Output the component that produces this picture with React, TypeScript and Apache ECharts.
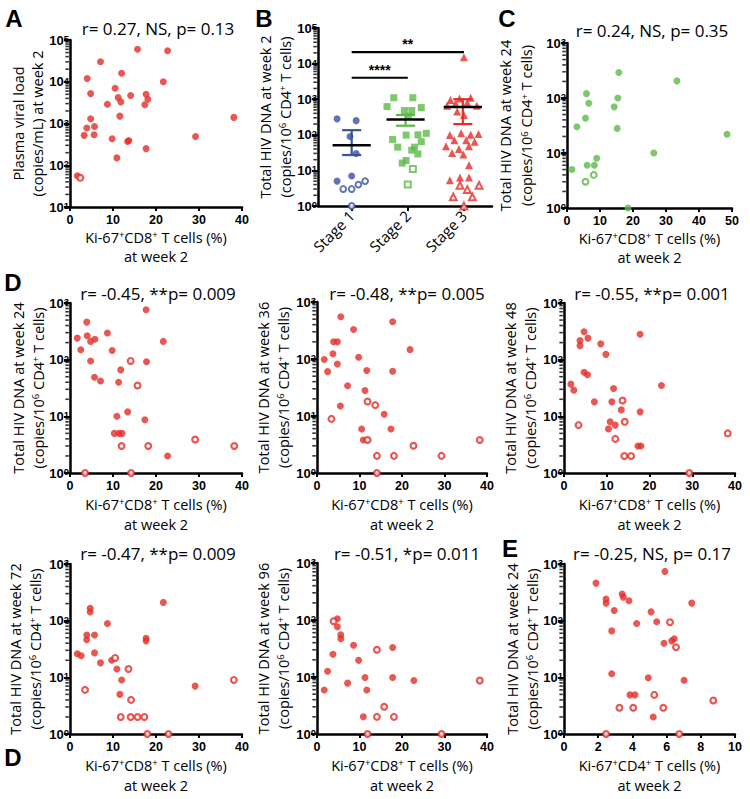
import React, { useEffect, useRef } from "react";
import * as echarts from "echarts";

const RED = "#e52d27";
const GREEN = "#5cb947";
const BLUE = "#3853a4";
const SANS = '"Open Sans", "Noto Sans", "DejaVu Sans", sans-serif';
const TICK = '"Liberation Sans", Arial, sans-serif';

// ---------- Panel A : plasma viral load vs Ki-67+CD8+ ----------
const aFilled = [
  [15.7, 60000], [22.7, 55000], [7.1, 30000], [12.0, 16000], [21.7, 10000], [4.0, 12000],
  [10.5, 7000], [4.8, 5200], [17.7, 5000], [14.1, 4700], [11.2, 4200], [18.1, 3800],
  [11.8, 3300], [8.7, 2900], [17.4, 2800], [11.6, 1500], [38.1, 1400], [4.8, 1300],
  [3.9, 780], [5.7, 850], [3.3, 520], [5.6, 540], [9.8, 430], [29.2, 490], [13.4, 370],
  [13.7, 390], [17.7, 250], [10.9, 150], [1.7, 56],
];
const aOpen = [[2.4, 50]];

// ---------- Panel B : HIV DNA by stage ----------
const stageLabels = ["Stage 1", "Stage 2", "Stage 3"];
const stage1Filled = [[0.74, 280], [1.08, 250], [0.97, 90], [1.08, 30], [0.74, 5], [1.0, 7]];
const stage1Open = [[0.85, 3], [1.0, 3], [1.12, 4], [1.24, 5], [1.0, 1]];
const stage2Filled = [
  [1.75, 1100], [2.09, 1100], [1.63, 620], [2.24, 580], [1.94, 480], [2.07, 480], [2.01, 330],
  [1.73, 74], [1.97, 98], [2.18, 100], [2.33, 110], [2.24, 64], [1.82, 45], [2.12, 45],
  [2.07, 37], [2.18, 29], [1.9, 16], [1.97, 19],
];
const stage2Open = [[2.09, 11], [2.0, 4]];
const stage3Filled = [
  [3.0, 15000], [2.76, 950], [2.92, 1050], [3.12, 1100], [2.7, 650], [2.85, 760], [3.06, 800],
  [3.23, 650], [2.88, 450], [3.0, 360], [2.75, 98], [2.95, 110], [3.12, 100], [3.26, 105],
  [2.83, 70], [3.04, 70], [3.19, 64], [2.68, 48], [2.91, 40], [3.09, 48], [2.79, 31],
  [2.99, 28], [3.09, 14], [2.75, 5.3], [2.93, 6.3], [3.09, 6.3],
];
const stage3Open = [[2.93, 3.8], [3.27, 3.8], [3.06, 2.9], [2.81, 1.8], [3.15, 1.8], [3.0, 1.0]];
const bCenters = [1.0, 1.96, 2.98];
const bMeans = [51, 270, 600];
const bSemLow = [27, 180, 200];
const bSemHigh = [135, 360, 1000];
const sigRows = [[1, 3, 21000], [1, 2, 4000]];
const sigLabels = ["**", "****"];

// ---------- Panel C ----------
const cFilled = [
  [15.7, 290], [33.3, 205], [5.9, 120], [15.4, 100], [6.6, 80], [14.3, 69], [5.6, 43],
  [3.0, 30], [15.2, 28], [48.5, 22], [26.3, 10], [9.0, 8], [6.1, 6], [8.3, 6], [1.5, 5], [18.5, 1],
];
const cOpen = [[8.1, 4], [5.6, 3]];

// ---------- Panel D ----------
const d24Filled = [
  [17.7, 760], [3.9, 460], [1.7, 240], [4.0, 265], [8.7, 295], [21.7, 210], [4.8, 210],
  [5.8, 230], [2.5, 150], [9.8, 145], [4.8, 95], [17.8, 92], [11.8, 66], [5.7, 49], [7.1, 42],
  [11.3, 40], [13.4, 12], [10.9, 10], [17.4, 8.7], [10.3, 5], [11.4, 5], [12.1, 5], [22.7, 2],
];
const d24Open = [[14.1, 95], [15.7, 35], [12.0, 3], [18.2, 3], [29.1, 3.9], [38.2, 3], [3.5, 1], [14.2, 1]];

const d36Filled = [
  [5.6, 550], [17.8, 450], [8.6, 330], [3.9, 200], [4.8, 200], [3.75, 124], [1.7, 98],
  [9.8, 107], [21.9, 146], [4.8, 82], [2.5, 60], [11.7, 63], [17.8, 61], [7.2, 34], [11.3, 28],
  [5.5, 15], [15.8, 10.7], [10.5, 5.9], [17.4, 5.9], [10.9, 3.8],
];
const d36Open = [
  [11.9, 18], [13.7, 15.5], [3.4, 8.9], [11.9, 3.8], [38.3, 3.8], [22.7, 3], [14.1, 2],
  [18.1, 2], [29.3, 2], [14.1, 1],
];

const d48Filled = [
  [4.7, 310], [17.8, 280], [3.75, 218], [5.6, 240], [8.6, 190], [3.75, 177], [9.8, 124],
  [4.7, 60], [5.5, 54], [1.6, 37], [2.3, 29], [22.8, 35], [11.6, 31], [7.1, 18], [11.2, 18],
  [13.4, 13], [17.8, 12], [10.8, 8], [12.0, 7], [10.4, 6], [17.3, 3], [18.0, 3],
];
const d48Open = [[13.7, 19], [3.4, 7], [14.2, 8], [12.0, 4], [14.1, 2], [15.7, 2], [38.3, 5], [29.3, 1]];

const d72Filled = [
  [21.7, 210], [4.7, 165], [4.7, 142], [8.7, 89], [3.9, 56], [5.7, 56], [3.9, 46], [17.7, 49],
  [17.7, 44], [1.7, 26], [2.6, 24], [5.7, 27], [7.1, 18], [9.7, 20], [10.9, 14], [12.0, 9],
  [11.6, 5], [29.1, 7],
];
const d72Open = [
  [10.5, 22], [13.6, 14], [3.5, 6], [14.2, 4], [11.8, 2], [14.1, 2], [15.7, 2], [17.3, 2],
  [18.0, 1], [22.9, 1], [38.1, 9],
];

const d96Filled = [
  [4.8, 105], [4.8, 76], [5.6, 55], [5.6, 47], [8.6, 36], [17.8, 33], [9.8, 19.6], [3.75, 25],
  [2.5, 12.6], [11.3, 9.8], [17.8, 9.8], [22.8, 8.7], [7.2, 7.8], [1.7, 5.9], [11.7, 5.9], [10.9, 2],
];
const d96Open = [[3.9, 95], [14.1, 30], [38.3, 8.7], [15.8, 3], [14.1, 2], [18.1, 2], [11.9, 1], [29.3, 1]];

// ---------- Panel E ----------
const eFilled = [
  [5.9, 740], [1.87, 460], [3.4, 295], [3.47, 260], [2.46, 240], [3.8, 225], [2.46, 204],
  [7.47, 204], [2.94, 151], [5.09, 143], [5.42, 96], [4.25, 89], [2.79, 66], [6.45, 48],
  [6.3, 44], [5.85, 40], [2.79, 11.6], [4.93, 9.8], [7.02, 8.9], [3.86, 4.9], [4.15, 4.9], [5.22, 2],
];
const eOpen = [
  [6.2, 94], [6.55, 34], [5.28, 4.9], [8.73, 3.9], [3.24, 2.9], [4.05, 2.9], [5.81, 2.9],
  [2.46, 1], [6.74, 1],
];

// ---------- texts ----------
const titles = [
  "r= 0.27, NS, p= 0.13",
  "",
  "r= 0.24, NS, p= 0.35",
  "r= -0.45, **p= 0.009",
  "r= -0.48, **p= 0.005",
  "r= -0.55, **p= 0.001",
  "r= -0.47, **p= 0.009",
  "r= -0.51, *p= 0.011",
  "r= -0.25, NS, p= 0.17",
];
const yNames = [
  ["Plasma viral load", "(copies/mL) at week 2"],
  ["Total HIV DNA at week 2", "(copies/10{s|6} CD4{s|+} T cells)"],
  ["Total HIV DNA at week 24", "(copies/10{s|6} CD4{s|+} T cells)"],
  ["Total HIV DNA at week 24", "(copies/10{s|6} CD4{s|+} T cells)"],
  ["Total HIV DNA at week 36", "(copies/10{s|6} CD4{s|+} T cells)"],
  ["Total HIV DNA at week 48", "(copies/10{s|6} CD4{s|+} T cells)"],
  ["Total HIV DNA at week 72", "(copies/10{s|6} CD4{s|+} T cells)"],
  ["Total HIV DNA at week 96", "(copies/10{s|6} CD4{s|+} T cells)"],
  ["Total HIV DNA at week 24", "(copies/10{s|6} CD4{s|+} T cells)"],
];
const xNameCD8 = "Ki-67{s|+}CD8{s|+} T cells (%)";
const xNameCD4 = "Ki-67{s|+}CD4{s|+} T cells (%)";
const xNameSub = "at week 2";
const panelLetters = ["A", "B", "C", "D", "D", "E"];

// ---------- layout (positions only) ----------
type Layout = {
  left: number; top: number; width: number; height: number;
  xMin: number; xMax: number; xInt: number; yMin: number; yMax: number;
  titleX: number; titleY: number; yNameX: number; yNameGap: number;
};
const layouts: Layout[] = [
  { left: 70, top: 40, width: 172, height: 167, xMin: 0, xMax: 40, xInt: 10, yMin: 10, yMax: 1e5, titleX: 158, titleY: 28, yNameX: 28, yNameGap: 19 },
  { left: 318, top: 28, width: 174, height: 178, xMin: 0.4, xMax: 3.5, xInt: 1, yMin: 1, yMax: 1e5, titleX: 0, titleY: 0, yNameX: 275, yNameGap: 20 },
  { left: 567, top: 43, width: 165, height: 165, xMin: 0, xMax: 50, xInt: 10, yMin: 1, yMax: 1000, titleX: 652, titleY: 30, yNameX: 516, yNameGap: 21 },
  { left: 70, top: 303, width: 172, height: 170, xMin: 0, xMax: 40, xInt: 10, yMin: 1, yMax: 1000, titleX: 158, titleY: 293, yNameX: 28, yNameGap: 20 },
  { left: 317, top: 302, width: 170, height: 171, xMin: 0, xMax: 40, xInt: 10, yMin: 1, yMax: 1000, titleX: 407, titleY: 293, yNameX: 273, yNameGap: 20 },
  { left: 564, top: 303, width: 171, height: 170, xMin: 0, xMax: 40, xInt: 10, yMin: 1, yMax: 1000, titleX: 652, titleY: 293, yNameX: 520, yNameGap: 20 },
  { left: 70, top: 564, width: 172, height: 170, xMin: 0, xMax: 40, xInt: 10, yMin: 1, yMax: 1000, titleX: 158, titleY: 553, yNameX: 25, yNameGap: 20 },
  { left: 317, top: 563, width: 170, height: 171, xMin: 0, xMax: 40, xInt: 10, yMin: 1, yMax: 1000, titleX: 407, titleY: 553, yNameX: 273, yNameGap: 20 },
  { left: 564, top: 564, width: 171, height: 170, xMin: 0, xMax: 10, xInt: 2, yMin: 1, yMax: 1000, titleX: 652, titleY: 553, yNameX: 522, yNameGap: 20 },
];
const letterPos = [[14, 18.5], [264, 18], [507, 18], [13, 282], [13, 757], [510, 548]];

const supRich = (size: number) => ({
  s: { fontSize: size, fontFamily: SANS, verticalAlign: "top", fill: "#000", color: "#000" },
});

function minorTickValues(yMin: number, yMax: number) {
  const out: number[] = [];
  for (let e = Math.round(Math.log10(yMin)); Math.pow(10, e) < yMax; e++) {
    for (let m = 2; m <= 9; m++) out.push(m * Math.pow(10, e));
  }
  return out;
}

function buildOption() {
  const grid: any[] = [];
  const xAxis: any[] = [];
  const yAxis: any[] = [];
  const series: any[] = [];
  const graphic: any[] = [];

  const pointData: [number[][], number[][], string][] = [
    [aFilled, aOpen, RED],
    [[], [], RED],
    [cFilled, cOpen, GREEN],
    [d24Filled, d24Open, RED],
    [d36Filled, d36Open, RED],
    [d48Filled, d48Open, RED],
    [d72Filled, d72Open, RED],
    [d96Filled, d96Open, RED],
    [eFilled, eOpen, RED],
  ];

  layouts.forEach((L, i) => {
    grid.push({ left: L.left, top: L.top, width: L.width, height: L.height, containLabel: false, outerBoundsMode: "none" });
    const isB = i === 1;
    xAxis.push({
      gridIndex: i,
      type: "value",
      min: L.xMin,
      max: L.xMax,
      interval: isB ? undefined : L.xInt,
      axisLine: { show: true, onZero: false, lineStyle: { color: "#000", width: 2.5 } },
      axisTick: isB
        ? { show: true, customValues: [1, 2, 3], length: 5, lineStyle: { color: "#000", width: 2 } }
        : { show: true, length: 4, lineStyle: { color: "#000", width: 2 } },
      axisLabel: isB
        ? {
            customValues: [1, 2, 3],
            formatter: (v: number) => stageLabels[Math.round(v) - 1],
            rotate: 45,
            fontSize: 15,
            fontFamily: SANS,
            color: "#000",
            margin: 7,
          }
        : { fontSize: 12.5, fontWeight: "bold", fontFamily: TICK, color: "#000", margin: 6 },
      splitLine: { show: false },
    });
    yAxis.push({
      gridIndex: i,
      type: "log",
      logBase: 10,
      min: L.yMin,
      max: L.yMax,
      axisLine: { show: true, lineStyle: { color: "#000", width: 2.5 } },
      axisTick: { show: true, length: 6, lineStyle: { color: "#000", width: 2 } },
      axisLabel: {
        margin: 1,
        formatter: (v: number) => `{b|10}{s|${Math.round(Math.log10(v))}}`,
        rich: {
          b: { fontSize: 13, fontWeight: "bold", fontFamily: TICK, color: "#000" },
          s: { fontSize: 9.5, fontWeight: "bold", fontFamily: TICK, color: "#000", verticalAlign: "top" },
        },
      },
      splitLine: { show: false },
    });

    // minor log ticks
    series.push({
      type: "scatter",
      xAxisIndex: i,
      yAxisIndex: i,
      silent: true,
      clip: false,
      symbol: "rect",
      symbolSize: [3.5, 1.6],
      symbolOffset: [-2.9, 0],
      itemStyle: { color: "#000" },
      data: minorTickValues(L.yMin, L.yMax).map((v) => [L.xMin, v]),
      z: 1,
    });

    if (!isB) {
      const [filled, open, color] = pointData[i];
      series.push({
        type: "scatter", xAxisIndex: i, yAxisIndex: i, silent: true, clip: false,
        symbol: "circle", symbolSize: 7, itemStyle: { color }, data: filled, z: 3,
      });
      series.push({
        type: "scatter", xAxisIndex: i, yAxisIndex: i, silent: true, clip: false,
        symbol: "circle", symbolSize: 5.8,
        itemStyle: { color: "#fff", borderColor: color, borderWidth: 2.2 }, data: open, z: 3,
      });
    }

    // title
    if (titles[i]) {
      graphic.push({
        type: "text", x: L.titleX, y: L.titleY, silent: true,
        style: { text: titles[i], fontSize: 17, fontFamily: SANS, fill: "#000", align: "center", verticalAlign: "middle", textAlign: "center", textVerticalAlign: "middle" },
      });
    }
    // y name (rotated, two lines)
    const cy = L.top + L.height / 2;
    const [l1, l2] = yNames[i];
    [l1, l2].forEach((t, k) => {
      graphic.push({
        type: "text",
        x: L.yNameX + (k === 0 ? -L.yNameGap / 2 : L.yNameGap / 2),
        y: cy,
        rotation: Math.PI / 2,
        silent: true,
        style: {
          text: t, fontSize: 14.5, fontFamily: SANS, fill: "#000",
          align: "center", verticalAlign: "middle", textAlign: "center", textVerticalAlign: "middle",
          rich: supRich(9.5),
        },
      });
    });
    // x name
    if (!isB) {
      const axisY = L.top + L.height;
      const cx = L.left + L.width / 2;
      const nm = i === 8 ? xNameCD4 : xNameCD8;
      const off1 = i <= 2 ? 30 : 31;
      const off2 = i <= 2 ? 49 : 51;
      graphic.push({
        type: "text", x: cx, y: axisY + off1, silent: true,
        style: { text: nm, fontSize: 14.5, fontFamily: SANS, fill: "#000", align: "center", verticalAlign: "middle", textAlign: "center", textVerticalAlign: "middle", rich: supRich(9.5) },
      });
      graphic.push({
        type: "text", x: cx, y: axisY + off2, silent: true,
        style: { text: xNameSub, fontSize: 14.5, fontFamily: SANS, fill: "#000", align: "center", verticalAlign: "middle", textAlign: "center", textVerticalAlign: "middle" },
      });
    }
  });

  // Panel B point series
  const bSets: [number[][], string, string, boolean, number][] = [
    [stage1Filled, BLUE, "circle", true, 7],
    [stage1Open, BLUE, "circle", false, 5.8],
    [stage2Filled, GREEN, "rect", true, 7],
    [stage2Open, GREEN, "rect", false, 6],
    [stage3Filled, RED, "triangle", true, 8],
    [stage3Open, RED, "triangle", false, 6.8],
  ];
  bSets.forEach(([d, col, sym, fill, size]) => {
    series.push({
      type: "scatter", xAxisIndex: 1, yAxisIndex: 1, silent: true, clip: false,
      symbol: sym, symbolSize: size,
      itemStyle: fill ? { color: col } : { color: "#fff", borderColor: col, borderWidth: 2 },
      data: d, z: 3,
    });
  });
  const bColors = [BLUE, GREEN, RED];
  series.push({
    type: "custom", xAxisIndex: 1, yAxisIndex: 1, silent: true, clip: false, z: 5,
    encode: { x: 0, y: [1, 2, 3] },
    data: bCenters.map((c, k) => [c, bMeans[k], bSemLow[k], bSemHigh[k]]),
    renderItem: (params: any, api: any) => {
      const k = params.dataIndex;
      const c = api.value(0), m = api.value(1), lo = api.value(2), hi = api.value(3);
      const pL = api.coord([c - 0.34, m]);
      const pR = api.coord([c + 0.34, m]);
      const pLo = api.coord([c, lo]);
      const pHi = api.coord([c, hi]);
      const cl = api.coord([c - 0.17, lo])[0];
      const cr = api.coord([c + 0.17, lo])[0];
      const col = bColors[k];
      return {
        type: "group",
        children: [
          { type: "line", shape: { x1: pLo[0], y1: pLo[1], x2: pHi[0], y2: pHi[1] }, style: { stroke: col, lineWidth: 2.2 } },
          { type: "line", shape: { x1: cl, y1: pLo[1], x2: cr, y2: pLo[1] }, style: { stroke: col, lineWidth: 2.2 } },
          { type: "line", shape: { x1: cl, y1: pHi[1], x2: cr, y2: pHi[1] }, style: { stroke: col, lineWidth: 2.2 } },
          { type: "line", shape: { x1: pL[0], y1: pL[1], x2: pR[0], y2: pR[1] }, style: { stroke: "#000", lineWidth: 2.5 } },
        ],
      };
    },
  });
  series.push({
    type: "custom", xAxisIndex: 1, yAxisIndex: 1, silent: true, clip: false, z: 5,
    encode: { x: [0, 1], y: 2 },
    data: sigRows,
    renderItem: (params: any, api: any) => {
      const p1 = api.coord([api.value(0), api.value(2)]);
      const p2 = api.coord([api.value(1), api.value(2)]);
      return {
        type: "group",
        children: [
          { type: "line", shape: { x1: p1[0], y1: p1[1], x2: p2[0], y2: p2[1] }, style: { stroke: "#000", lineWidth: 2.2 } },
          {
            type: "text", x: (p1[0] + p2[0]) / 2, y: p1[1] - 1,
            style: { text: sigLabels[params.dataIndex], fontSize: 14, fontWeight: "bold", fontFamily: TICK, fill: "#000", align: "center", verticalAlign: "bottom", textAlign: "center", textVerticalAlign: "bottom" },
          },
        ],
      };
    },
  });

  panelLetters.forEach((t, k) => {
    graphic.push({
      type: "text", x: letterPos[k][0], y: letterPos[k][1], silent: true,
      style: { text: t, fontSize: 24, fontWeight: "bold", fontFamily: TICK, fill: "#000", align: "center", verticalAlign: "middle", textAlign: "center", textVerticalAlign: "middle" },
    });
  });

  return {
    animation: false,
    backgroundColor: "#fff",
    grid, xAxis, yAxis, series, graphic,
  };
}

export default function App() {
  const ref = useRef<HTMLDivElement>(null);
  useEffect(() => {
    document.body.style.margin = "0";
    const chart = echarts.init(ref.current!, null, { renderer: "svg", width: 750, height: 799 });
    chart.setOption(buildOption() as any);
    return () => chart.dispose();
  }, []);
  return <div ref={ref} style={{ width: 750, height: 799 }} />;
}
